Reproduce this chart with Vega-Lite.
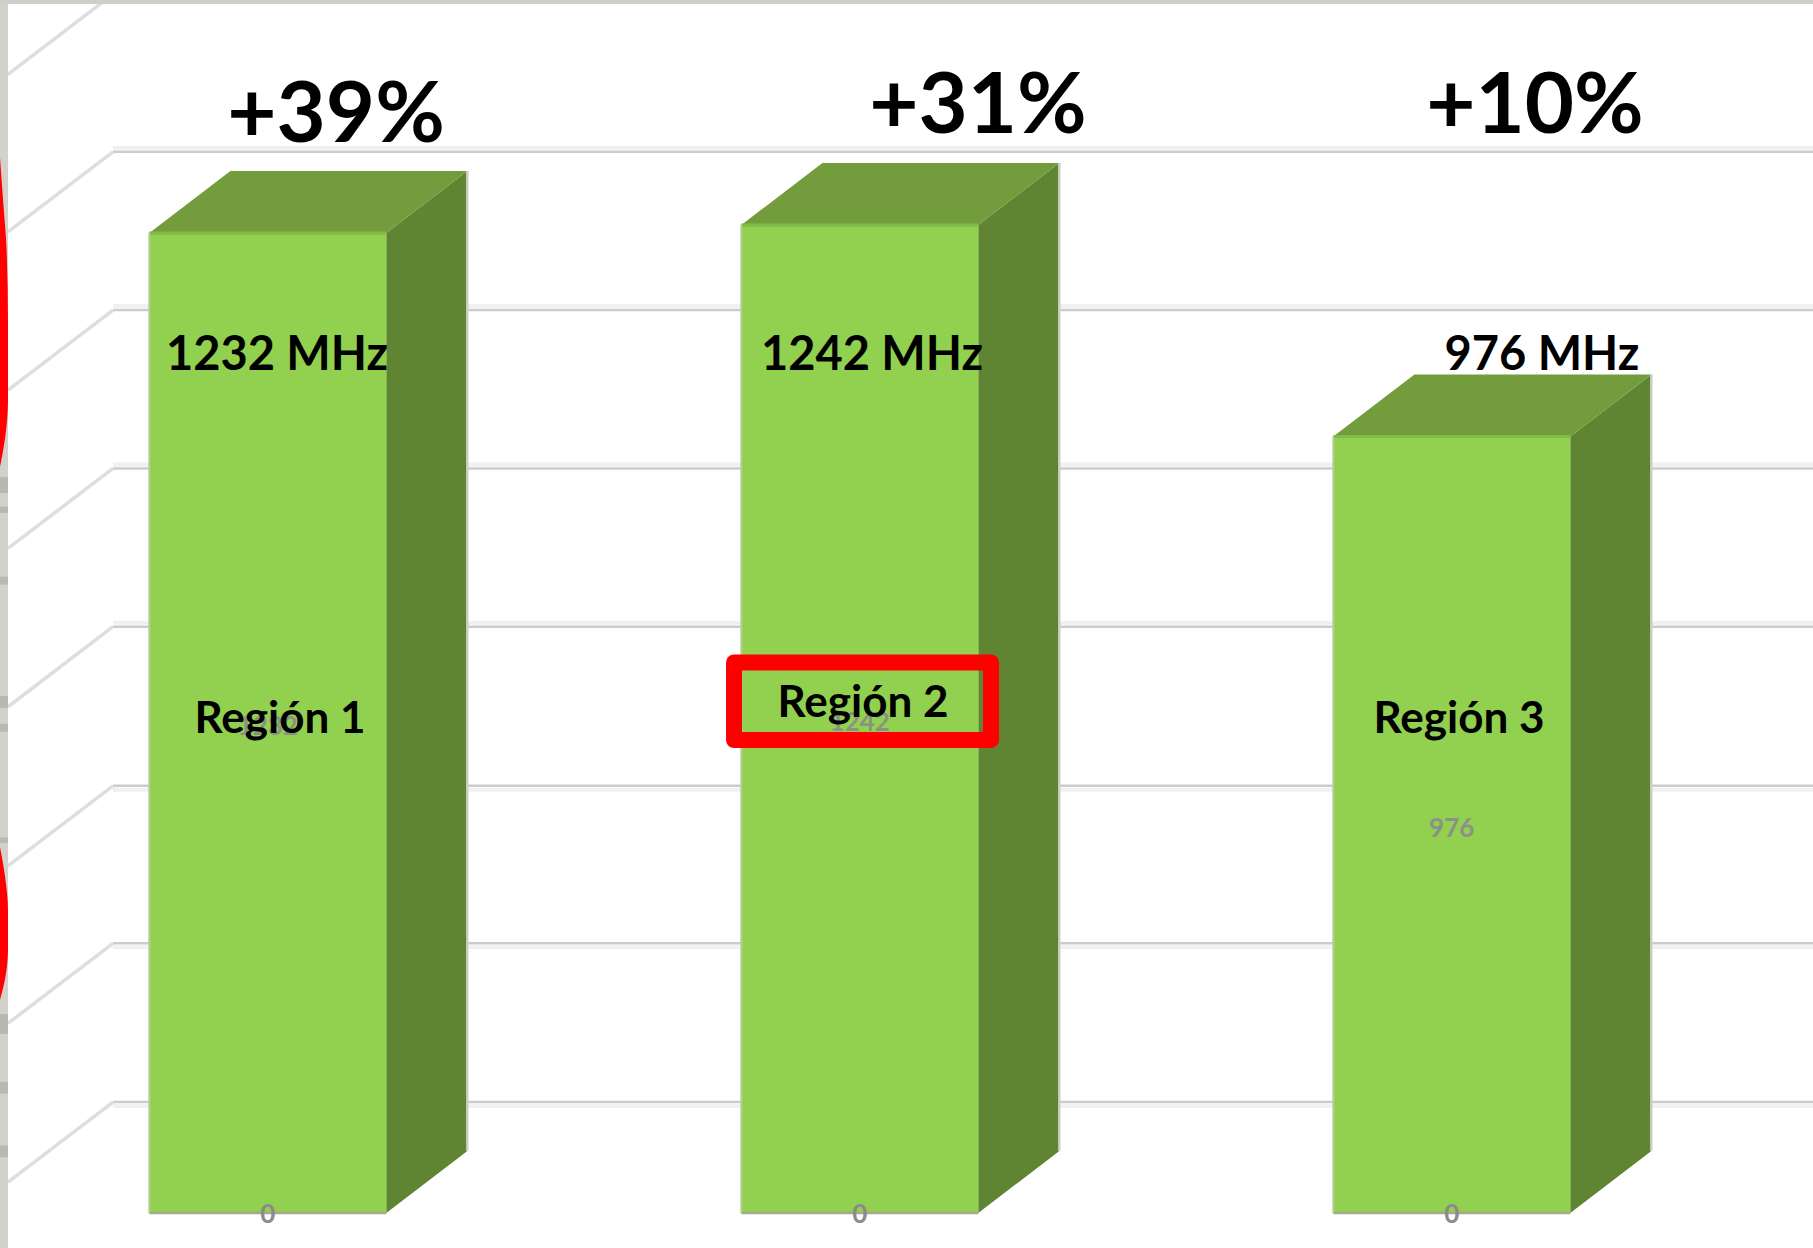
{
"$schema":"https://vega.github.io/schema/vega-lite/v6.json",
"width":1813,"height":1248,
"autosize":{"type":"fit","contains":"padding"},
"padding":0,
"background":"#ffffff",
"config":{"view":{"stroke":null},"text":{"font":"Lato"}},
"datasets":{
 "bars":[
  {"region":"Región 1","slot":1,"mhz":1232},
  {"region":"Región 2","slot":2,"mhz":1242},
  {"region":"Región 3","slot":3,"mhz":976}
 ],
 "grid":[{"level":139.5},{"level":339},{"level":537},{"level":737},{"level":936},{"level":1135},{"level":1334},{"level":1532}]
},
"encoding":{
 "x":{"field":"u","type":"quantitative","stack":null,"axis":null,"scale":{"domain":[0.5478,3.6103],"nice":false,"zero":false}},
 "y":{"field":"v","type":"quantitative","stack":null,"axis":null,"scale":{"domain":[-44,1524.8],"nice":false,"zero":false}}
},
"layer":[
 {"data":{"name":"grid"},
  "transform":[{"filter":"datum.level>700 && datum.level<1500"},{"calculate":"0.7387","as":"u"},{"calculate":"3.6103","as":"u2"},{"calculate":"datum.level","as":"v"}],
  "mark":{"type":"rule","color":"#f0f0f0","strokeWidth":4,"yOffset":-4,"clip":true},
  "encoding":{"x2":{"field":"u2"}}},
 {"data":{"name":"grid"},
  "transform":[{"filter":"datum.level<=700"},{"calculate":"0.7387","as":"u"},{"calculate":"3.6103","as":"u2"},{"calculate":"datum.level","as":"v"}],
  "mark":{"type":"rule","color":"#f0f0f0","strokeWidth":4,"yOffset":4,"clip":true},
  "encoding":{"x2":{"field":"u2"}}},
 {"data":{"name":"grid"},
  "transform":[{"filter":"datum.level<1500"},{"calculate":"0.7387","as":"u"},{"calculate":"3.6103","as":"u2"},{"calculate":"datum.level","as":"v"}],
  "mark":{"type":"rule","color":"#cccccc","strokeWidth":2.5,"clip":true},
  "encoding":{"x2":{"field":"u2"}}},
 {"data":{"name":"grid"},
  "transform":[{"calculate":"0.5613","as":"u"},{"calculate":"0.7387","as":"u2"},{"calculate":"datum.level-100.6","as":"v"},{"calculate":"datum.level","as":"v2"}],
  "mark":{"type":"rule","color":"#dedede","strokeWidth":3.5,"clip":true},
  "encoding":{"x2":{"field":"u2"},"y2":{"field":"v2"}}},
 {"data":{"values":[{"part":"left"}]},
  "transform":[{"calculate":"0.5478","as":"u"},{"calculate":"0.5613","as":"u2"},{"calculate":"-44","as":"v"},{"calculate":"1524.8","as":"v2"}],
  "mark":{"type":"rect","color":"#d2d1cb"},
  "encoding":{"x2":{"field":"u2"},"y2":{"field":"v2"}}},
 {"data":{"values":[
   {"u":0.5478,"u2":0.5613,"v":905,"v2":925},{"u":0.5478,"u2":0.5613,"v":880,"v2":888},{"u":0.5478,"u2":0.5613,"v":790,"v2":800},
   {"u":0.5478,"u2":0.5613,"v":635,"v2":650},{"u":0.5478,"u2":0.5613,"v":605,"v2":615},{"u":0.5478,"u2":0.5613,"v":465,"v2":472},
   {"u":0.5478,"u2":0.5613,"v":225,"v2":250},{"u":0.5478,"u2":0.5613,"v":150,"v2":165},{"u":0.5478,"u2":0.5613,"v":70,"v2":85}
  ]},
  "mark":{"type":"rect","color":"#b9b8b1"},
  "encoding":{"x2":{"field":"u2"},"y2":{"field":"v2"}}},
 {"data":{"values":[{"part":"top"}]},
  "transform":[{"calculate":"0.5478","as":"u"},{"calculate":"3.6103","as":"u2"},{"calculate":"1519.8","as":"v"},{"calculate":"1524.8","as":"v2"}],
  "mark":{"type":"rect","color":"#cfcec9"},
  "encoding":{"x2":{"field":"u2"},"y2":{"field":"v2"}}},
 {"data":{"values":[
   {"arc":1,"u":0.5478,"v":1327},{"arc":1,"u":0.5530,"v":1273},{"arc":1,"u":0.5590,"v":1210},{"arc":1,"u":0.5613,"v":1122},{"arc":1,"u":0.5613,"v":1022},{"arc":1,"u":0.5560,"v":972},{"arc":1,"u":0.5478,"v":938},
   {"arc":2,"u":0.5478,"v":460},{"arc":2,"u":0.5570,"v":419},{"arc":2,"u":0.5613,"v":381},{"arc":2,"u":0.5613,"v":331},{"arc":2,"u":0.5560,"v":293},{"arc":2,"u":0.5478,"v":268}
  ]},
  "mark":{"type":"area","orient":"horizontal","color":"#ff0000","clip":true,"interpolate":"monotone"},
  "encoding":{"detail":{"field":"arc"}}},
 {"data":{"name":"bars"},
  "transform":[{"calculate":"[0,1]","as":"k"},{"flatten":["k"]},
   {"calculate":"datum.slot+0.2003+datum.k*0.137","as":"u"},
   {"calculate":"datum.k*78","as":"v"},
   {"calculate":"datum.mhz+datum.k*78","as":"v2"}],
  "mark":{"type":"area","color":"#5f8432"},
  "encoding":{"y2":{"field":"v2"},"detail":{"field":"region"}}},
 {"data":{"name":"bars"},
  "transform":[{"calculate":"[0,1,2,3]","as":"k"},{"flatten":["k"]},
   {"calculate":"datum.slot-0.2+[0,0.137,0.4003,0.5373][datum.k]","as":"u"},
   {"calculate":"datum.mhz+[0,0,0,78][datum.k]","as":"v"},
   {"calculate":"datum.mhz+[0,78,78,78][datum.k]","as":"v2"}],
  "mark":{"type":"area","color":"#739d3d"},
  "encoding":{"y2":{"field":"v2"},"detail":{"field":"region"}}},
 {"data":{"name":"bars"},
  "transform":[{"calculate":"datum.slot-0.2","as":"u"},{"calculate":"datum.slot+0.2003","as":"u2"},{"calculate":"0","as":"v"},{"calculate":"datum.mhz","as":"v2"}],
  "mark":{"type":"rect","color":"#92d050"},
  "encoding":{"x2":{"field":"u2"},"y2":{"field":"v2"}}},
 {"data":{"name":"bars"},
  "transform":[{"calculate":"datum.slot-0.2","as":"u"},{"calculate":"datum.slot+0.2003","as":"u2"},{"calculate":"datum.mhz","as":"v"}],
  "mark":{"type":"rule","color":"#84b848","strokeWidth":3},
  "encoding":{"x2":{"field":"u2"}}},
 {"data":{"name":"bars"},
  "transform":[{"calculate":"datum.slot-0.2","as":"u"},{"calculate":"datum.slot+0.2003","as":"u2"},{"calculate":"0","as":"v"}],
  "mark":{"type":"rule","color":"#a3a98f","strokeWidth":2.5},
  "encoding":{"x2":{"field":"u2"}}},
 {"data":{"name":"bars"},
  "transform":[{"calculate":"datum.slot-0.2","as":"u"},{"calculate":"0","as":"v"},{"calculate":"datum.mhz","as":"v2"}],
  "mark":{"type":"rule","color":"#b7cf96","strokeWidth":2},
  "encoding":{"y2":{"field":"v2"}}},
 {"data":{"name":"bars"},
  "transform":[{"calculate":"datum.slot+0.3373","as":"u"},{"calculate":"78","as":"v"},{"calculate":"datum.mhz+78","as":"v2"}],
  "mark":{"type":"rule","color":"#cfd2c6","strokeWidth":2.5},
  "encoding":{"y2":{"field":"v2"}}},
 {"data":{"name":"bars"},
  "transform":[{"calculate":"datum.slot","as":"u"},{"calculate":"datum.mhz/2-5","as":"v"}],
  "mark":{"type":"text","fontSize":26,"fontWeight":"bold","color":"#8b9184","baseline":"middle","align":"center"},
  "encoding":{"text":{"field":"mhz"}}},
 {"data":{"name":"bars"},
  "transform":[{"calculate":"datum.slot","as":"u"},{"calculate":"-3","as":"v"}],
  "mark":{"type":"text","fontSize":26,"fontWeight":"bold","color":"#8b8b8b","baseline":"middle","align":"center"},
  "encoding":{"text":{"value":"0"}}},
 {"data":{"values":[{"region":"Región 2","u":1.7877,"u2":2.2218,"v":594.6,"v2":692}]},
  "mark":{"type":"rect","fill":null,"stroke":"#ff0000","strokeWidth":16,"strokeJoin":"round"},
  "encoding":{"x2":{"field":"u2"},"y2":{"field":"v2"}}},
 {"data":{"values":[{"t":"+39%","u":1.1154,"v":1346},{"t":"+31%","u":2.1998,"v":1357.6},{"t":"+10%","u":3.1407,"v":1357.6}]},
  "mark":{"type":"text","fontSize":85,"fontWeight":"bold","color":"#000000","align":"center","baseline":"alphabetic"},
  "encoding":{"text":{"field":"t"}}},
 {"data":{"values":[{"t":"1232 MHz","u":1.0157,"v":1060},{"t":"1242 MHz","u":2.0208,"v":1060},{"t":"976 MHz","u":3.1525,"v":1060}]},
  "mark":{"type":"text","fontSize":47,"fontWeight":"bold","color":"#000000","align":"center","baseline":"alphabetic"},
  "encoding":{"text":{"field":"t"}}},
 {"data":{"values":[{"t":"Región 1","u":1.0208,"v":603},{"t":"Región 2","u":2.0056,"v":623.5},{"t":"Región 3","u":3.0124,"v":603}]},
  "mark":{"type":"text","fontSize":44,"fontWeight":"bold","color":"#000000","align":"center","baseline":"alphabetic"},
  "encoding":{"text":{"field":"t"}}}
]
}
